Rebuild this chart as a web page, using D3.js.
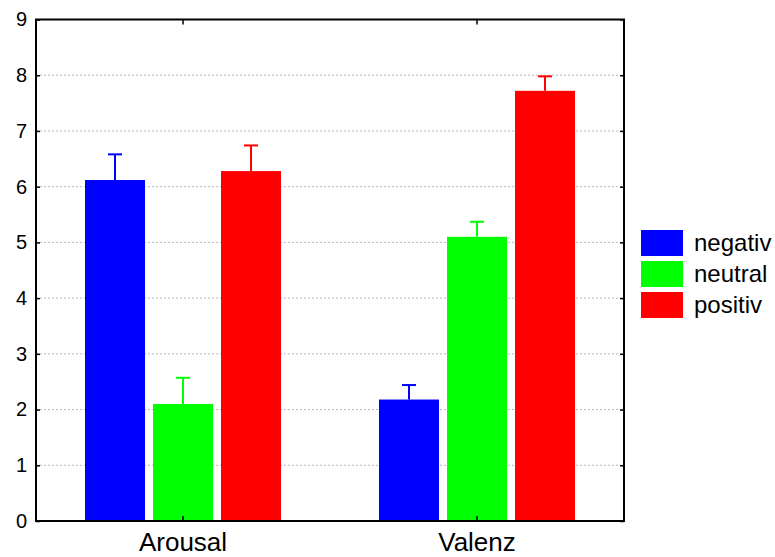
<!DOCTYPE html>
<html><head><meta charset="utf-8">
<script src="https://cdn.jsdelivr.net/npm/d3@7"></script>
<style>body{margin:0;background:#fff}svg{display:block;font-family:"Liberation Sans",Arial,sans-serif}</style>
</head><body><svg id="c" width="775" height="557"></svg>
<script>
const categories = ["Arousal", "Valenz"];
const seriesNames = ["negativ", "neutral", "positiv"];
const seriesColors = ["#0000ff", "#00ff00", "#ff0000"];
const meansArousal = [6.12, 2.10, 6.28];
const meansValenz = [2.18, 5.10, 7.72];
const upperArousal = [6.58, 2.57, 6.74];
const upperValenz = [2.44, 5.37, 7.98];
const yTicks = [0,1,2,3,4,5,6,7,8,9];

const means = [meansArousal, meansValenz];
const uppers = [upperArousal, upperValenz];

const svg = d3.select("#c");
const L = 36, R = 624, T = 19.5, B = 521;
const GW = 196;
const y = d3.scaleLinear().domain([0, 9]).range([B, T]);
const x0 = d3.scaleBand().domain(categories).range([L, R]);
const x1 = d3.scaleBand().domain(seriesNames).range([0, GW]).paddingInner(8 / 68);
const groupOff = (x0.bandwidth() - GW) / 2;

// grid
svg.append("g").selectAll("line").data(yTicks.filter(d => d > 0 && d < 9)).join("line")
  .attr("x1", L).attr("x2", R).attr("y1", d => y(d)).attr("y2", d => y(d))
  .attr("stroke", "#b8b8b8").attr("stroke-width", 1).attr("stroke-dasharray", "2,2");

// bars
const g = svg.append("g");
categories.forEach((c, ci) => {
  seriesNames.forEach((s, si) => {
    const bx = x0(c) + groupOff + x1(s);
    const bw = x1.bandwidth();
    g.append("rect").attr("x", bx).attr("y", y(means[ci][si])).attr("width", bw)
      .attr("height", y(0) - y(means[ci][si])).attr("fill", seriesColors[si]);
    const cx = bx + bw / 2;
    g.append("line").attr("x1", cx).attr("x2", cx).attr("y1", y(means[ci][si])).attr("y2", y(uppers[ci][si]))
      .attr("stroke", seriesColors[si]).attr("stroke-width", 2);
    g.append("line").attr("x1", cx - 7).attr("x2", cx + 7).attr("y1", y(uppers[ci][si])).attr("y2", y(uppers[ci][si]))
      .attr("stroke", seriesColors[si]).attr("stroke-width", 2);
  });
});

// frame
svg.append("rect").attr("x", L).attr("y", T).attr("width", R - L).attr("height", B - T)
  .attr("fill", "none").attr("stroke", "#000").attr("stroke-width", 2);

// left axis
const yAxis = d3.axisLeft(y).tickValues(yTicks).tickSize(-4).tickPadding(9).tickFormat(d3.format("d"));
const ga = svg.append("g").attr("transform", `translate(${L},0)`).call(yAxis);
ga.select(".domain").remove();
ga.selectAll("text").attr("font-size", 20).attr("fill", "#000").attr("font-family", "Liberation Sans, Arial, sans-serif");
ga.selectAll("line").attr("stroke", "#000").attr("stroke-width", 1.5);
// right ticks
const gr = svg.append("g").attr("transform", `translate(${R},0)`).call(d3.axisRight(y).tickValues(yTicks).tickSize(-4).tickFormat(""));
gr.select(".domain").remove();
gr.selectAll("line").attr("stroke", "#000").attr("stroke-width", 1.5);

// bottom axis
const xb = svg.append("g").attr("transform", `translate(0,${B})`).call(d3.axisBottom(x0).tickSize(-5).tickPadding(12));
xb.select(".domain").remove();
xb.selectAll("line").attr("stroke", "#000").attr("stroke-width", 1.5);
xb.selectAll("text").attr("font-size", 26).attr("fill", "#000").attr("font-family", "Liberation Sans, Arial, sans-serif");
const xt = svg.append("g").attr("transform", `translate(0,${T})`).call(d3.axisTop(x0).tickSize(-5).tickFormat(""));
xt.select(".domain").remove();
xt.selectAll("line").attr("stroke", "#000").attr("stroke-width", 1.5);

// legend
const lg = svg.append("g").attr("transform", "translate(641,230)");
seriesNames.forEach((s, i) => {
  lg.append("rect").attr("x", 0).attr("y", i * 31).attr("width", 42).attr("height", 26).attr("fill", seriesColors[i]);
  lg.append("text").attr("x", 53).attr("y", i * 31 + 21).attr("font-size", 24).attr("fill", "#000").text(s);
});
</script></body></html>
